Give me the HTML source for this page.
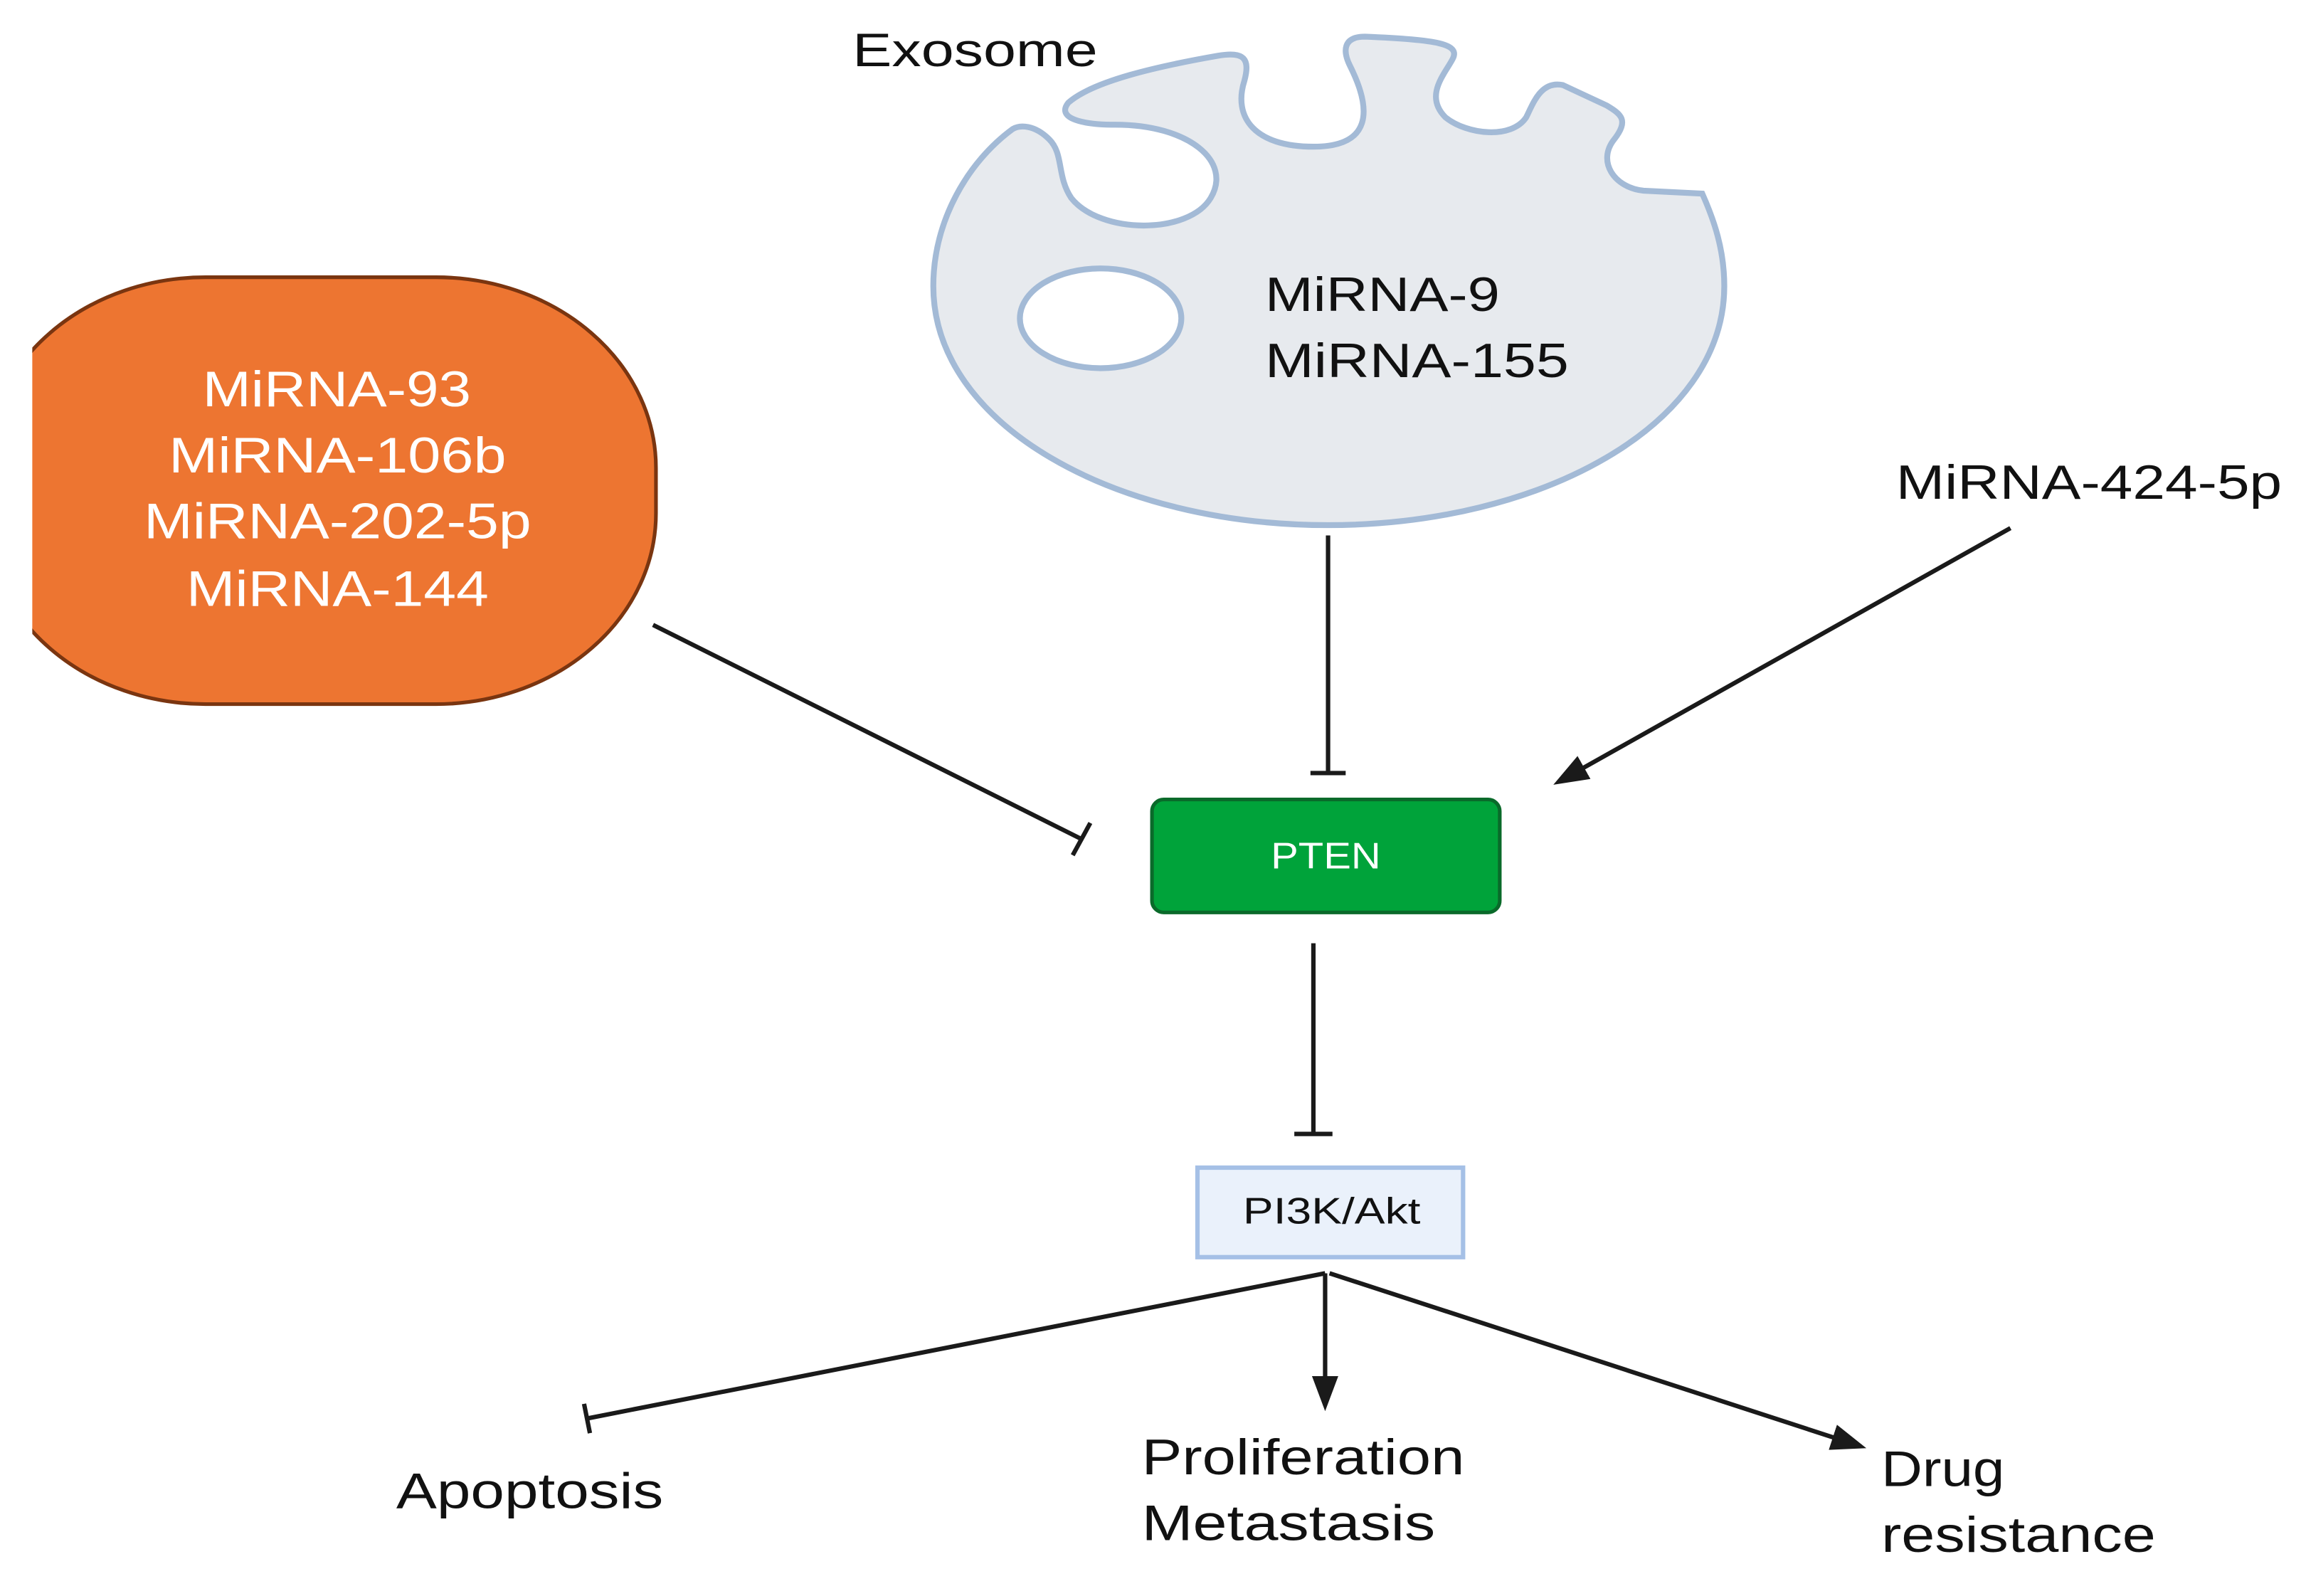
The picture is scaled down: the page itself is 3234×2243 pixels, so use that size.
<!DOCTYPE html>
<html><head><meta charset="utf-8"><style>
html,body{margin:0;padding:0;background:#fff}
svg{display:block}
text{font-family:"Liberation Sans",sans-serif}
</style></head><body>
<svg width="3234" height="2243" viewBox="0 0 1568 1088" preserveAspectRatio="none" xmlns="http://www.w3.org/2000/svg">
<defs>
<clipPath id="c"><rect x="22" y="0" width="1600" height="1100"/></clipPath>
<marker id="ar" markerWidth="24" markerHeight="18" refX="20" refY="9" orient="auto" markerUnits="userSpaceOnUse" viewBox="0 0 24 18"><path d="M0,0 L24,9 L0,18 Z" fill="#1a1a1a"/></marker>
</defs>
<rect width="1568" height="1088" fill="#fff"/>
<text x="581" y="45" font-size="32" fill="#111" textLength="167" lengthAdjust="spacingAndGlyphs">Exosome</text>
<path d="M 690 88 C 660 110, 636 150, 636 195 C 636 290, 760 358, 905 358 C 1050 358, 1175 290, 1175 195 C 1175 170, 1168 150, 1160 132 L 1120 130 C 1100 128, 1088 110, 1100 95 C 1110 82, 1105 78, 1095 72 L 1065 58 C 1050 55, 1045 70, 1040 80 C 1030 95, 1000 92, 985 80 C 970 65, 985 50, 990 40 C 995 30, 980 27, 930 25 C 915 25, 915 35, 920 45 C 935 75, 935 100, 895 100 C 855 100, 840 80, 848 55 C 852 40, 848 35, 830 38 C 790 45, 745 55, 728 70 C 720 80, 735 85, 760 85 C 810 85, 840 110, 825 135 C 810 160, 750 160, 730 135 C 720 120, 725 105, 715 95 C 705 85, 695 85, 690 88 Z" fill="#e7eaee" stroke="#a3bad6" stroke-width="4"/>
<ellipse cx="750" cy="217" rx="55" ry="34" fill="#fff" stroke="#a3bad6" stroke-width="4"/>
<text x="862" y="212" font-size="33" fill="#111" textLength="160" lengthAdjust="spacingAndGlyphs">MiRNA-9</text>
<text x="862" y="257" font-size="33" fill="#111" textLength="207" lengthAdjust="spacingAndGlyphs">MiRNA-155</text>

<g clip-path="url(#c)">
<rect x="-10" y="189" width="457" height="291" rx="150" ry="130" fill="#ed7531" stroke="#7a3510" stroke-width="2.5"/>
</g>
<g font-size="34" fill="#fff" lengthAdjust="spacingAndGlyphs">
<text x="138" y="277" textLength="183" lengthAdjust="spacingAndGlyphs">MiRNA-93</text>
<text x="115" y="322" textLength="230" lengthAdjust="spacingAndGlyphs">MiRNA-106b</text>
<text x="98" y="367" textLength="264" lengthAdjust="spacingAndGlyphs">MiRNA-202-5p</text>
<text x="127" y="413" textLength="206" lengthAdjust="spacingAndGlyphs">MiRNA-144</text>
</g>

<g stroke="#1a1a1a" stroke-width="3" fill="none">
<line x1="445" y1="426" x2="737" y2="572"/>
<line x1="731" y1="583" x2="743" y2="561"/>
<line x1="905" y1="365" x2="905" y2="527"/>
<line x1="893" y1="527" x2="917" y2="527"/>
<line x1="1370" y1="360" x2="1062" y2="533" marker-end="url(#ar)"/>
<line x1="895" y1="643" x2="895" y2="773"/>
<line x1="882" y1="773" x2="908" y2="773"/>
<line x1="903" y1="868" x2="400" y2="967"/>
<line x1="398" y1="957" x2="402" y2="977"/>
<line x1="903" y1="868" x2="903" y2="958" marker-end="url(#ar)"/>
<line x1="906" y1="868" x2="1268" y2="986" marker-end="url(#ar)"/>
</g>
<text x="1292" y="340" font-size="33" fill="#111" textLength="263" lengthAdjust="spacingAndGlyphs">MiRNA-424-5p</text>

<rect x="785" y="545" width="237" height="77" rx="8" fill="#00a33a" stroke="#0a6a2a" stroke-width="2.5"/>
<text x="866" y="592" font-size="25" fill="#fff" textLength="75" lengthAdjust="spacingAndGlyphs">PTEN</text>
<rect x="816" y="796" width="181" height="61" fill="#eaf1fb" stroke="#a5c0e6" stroke-width="3"/>
<text x="847" y="834" font-size="25" fill="#111" textLength="121" lengthAdjust="spacingAndGlyphs">PI3K/Akt</text>

<g font-size="34" fill="#111">
<text x="270" y="1028" textLength="182" lengthAdjust="spacingAndGlyphs">Apoptosis</text>
<text x="778" y="1005" textLength="220" lengthAdjust="spacingAndGlyphs">Proliferation</text>
<text x="778" y="1050" textLength="200" lengthAdjust="spacingAndGlyphs">Metastasis</text>
<text x="1282" y="1013" textLength="84" lengthAdjust="spacingAndGlyphs">Drug</text>
<text x="1282" y="1058" textLength="187" lengthAdjust="spacingAndGlyphs">resistance</text>
</g>
</svg>
</body></html>
